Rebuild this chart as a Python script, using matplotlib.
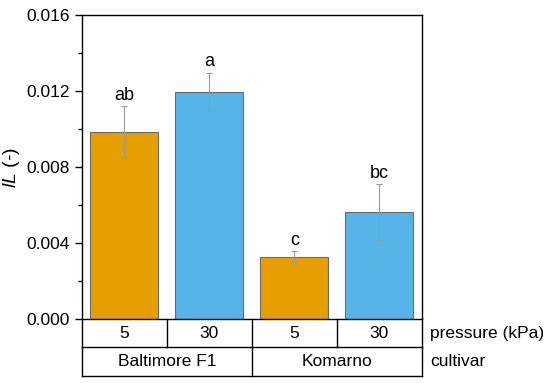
import matplotlib
matplotlib.use("Agg")
import matplotlib.pyplot as plt
from matplotlib.ticker import MultipleLocator

plt.rcParams['font.family'] = ['Liberation Sans', 'DejaVu Sans']
plt.rcParams['mathtext.fontset'] = 'custom'
plt.rcParams['mathtext.it'] = 'Liberation Sans:italic'
plt.rcParams['mathtext.rm'] = 'Liberation Sans'

# data
pressure = ['5', '30', '5', '30']
cultivars = ['Baltimore F1', 'Komarno']
values = [0.00988, 0.01195, 0.00329, 0.00563]
err_lo = [0.00134, 0.00097, 0.00025, 0.00147]
err_hi = [0.00135, 0.00103, 0.00029, 0.00147]
letters = ['ab', 'a', 'c', 'bc']
colors = ['#E69F00', '#56B4E9', '#E69F00', '#56B4E9']

fig = plt.figure(figsize=(5.5, 3.83), dpi=100)
ax = fig.add_axes([0.149, 0.1663, 0.618, 0.7937])

x = list(range(len(values)))
ax.bar(x, values, width=0.8, color=colors, edgecolor='#6b6b6b', linewidth=0.8, zorder=2)
ax.errorbar(x, values, yerr=[err_lo, err_hi], fmt='none', ecolor='#9a9a9a',
            elinewidth=0.8, capsize=2.5, capthick=0.8, zorder=3)
for xi, v, e, t in zip(x, values, err_hi, letters):
    ax.text(xi, v + e + 0.00012, t, ha='center', va='bottom', fontsize=13)

ax.set_xlim(-0.5, 3.5)
ax.set_ylim(0, 0.016)
ax.yaxis.set_minor_locator(MultipleLocator(0.002))
ax.set_yticks([0, 0.004, 0.008, 0.012, 0.016])
ax.set_yticklabels(['0.000', '0.004', '0.008', '0.012', '0.016'])
ax.tick_params(axis='y', which='major', direction='out', length=5, width=1, labelsize=12.5)
ax.tick_params(axis='y', which='minor', direction='out', length=3, width=1)
ax.tick_params(axis='x', bottom=False, labelbottom=False)
for s in ax.spines.values():
    s.set_linewidth(1)
ax.set_ylabel(r'$lL$ (-)', fontsize=14, labelpad=3)

# table below the axes
tr = ax.get_xaxis_transform()
r1 = -0.092
r2 = -0.1855
kw = dict(color='black', lw=1, transform=tr, clip_on=False)
ax.plot([-0.5, 3.5], [r1, r1], **kw)
ax.plot([-0.5, 3.5], [r2, r2], **kw)
for xv in [-0.5, 0.5, 1.5, 2.5, 3.5]:
    ax.plot([xv, xv], [0, r1], **kw)
for xv in [-0.5, 1.5, 3.5]:
    ax.plot([xv, xv], [r1, r2], **kw)
for xi, p in zip(x, pressure):
    ax.text(xi, r1 / 2, p, ha='center', va='center', fontsize=12.5, transform=tr)
for i, c in enumerate(cultivars):
    ax.text(2 * i + 0.5, (r1 + r2) / 2, c, ha='center', va='center', fontsize=12.5, transform=tr)
ax.text(3.6, r1 / 2, 'pressure (kPa)', ha='left', va='center', fontsize=12.5, transform=tr)
ax.text(3.6, (r1 + r2) / 2, 'cultivar', ha='left', va='center', fontsize=12.5, transform=tr)

fig.savefig('out.png', dpi=100)
